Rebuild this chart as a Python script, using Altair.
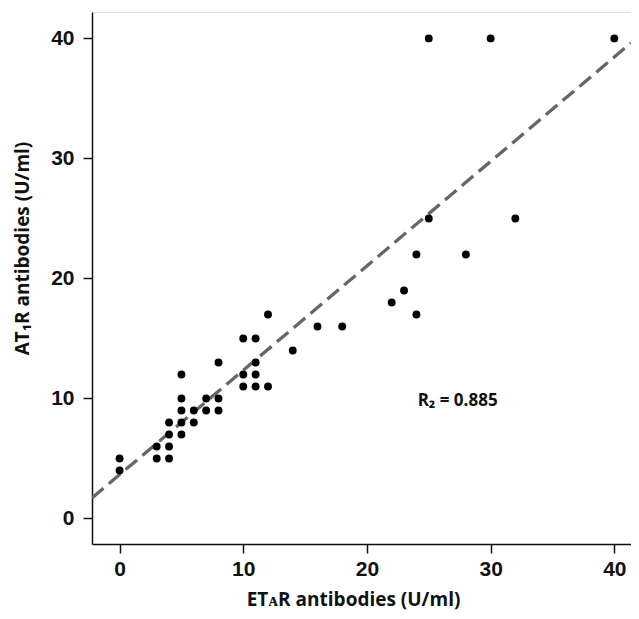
import altair as alt
import pandas as pd

# Data
eta_r = [0, 0, 3, 3, 4, 4, 4, 4, 5, 5, 5, 5, 5, 6, 6, 7, 7, 8, 8, 8,
         10, 10, 10, 11, 11, 11, 11, 12, 12, 14, 16, 18, 22, 23, 24, 24,
         25, 28, 32, 25, 30, 40]
at1_r = [5, 4, 6, 5, 5, 6, 7, 8, 7, 8, 9, 10, 12, 8, 9, 9, 10, 9, 10, 13,
         11, 12, 15, 11, 12, 13, 15, 11, 17, 14, 16, 16, 18, 19, 17, 22,
         25, 22, 25, 40, 40, 40]

fit_slope = 0.87
fit_intercept = 3.65
r2_label = "R₂ = 0.885"
r2_pos = [24.1, 9.83]

x_domain = [-2.23, 41.35]
y_domain = [-2.125, 42.2]
tick_values = [0, 10, 20, 30, 40]

pts = pd.DataFrame({"x": eta_r, "y": at1_r})
line_df = pd.DataFrame({"x": x_domain})
line_df["y"] = fit_intercept + fit_slope * line_df["x"]
ann = pd.DataFrame({"x": [r2_pos[0]], "y": [r2_pos[1]], "t": [r2_label]})

x_scale = alt.Scale(domain=x_domain, nice=False, zero=False)
y_scale = alt.Scale(domain=y_domain, nice=False, zero=False)

label_font = "Liberation Sans"
title_font = "Open Sans"
ink = "#111111"

x_axis = alt.Axis(
    values=tick_values, title="ETᴀR antibodies (U/ml)", grid=False,
    labelFont=label_font, labelFontSize=21, labelFontWeight="bold", labelColor=ink,
    labelPadding=5, tickSize=9, tickColor=ink, tickWidth=1.5,
    domainColor=ink, domainWidth=1.5,
    titleFont=title_font, titleFontSize=19, titleFontWeight="bold", titleColor=ink,
    titleX=261, titleY=61, titleBaseline="alphabetic", titleAnchor="middle", titleAlign="center",
)
y_axis = alt.Axis(
    values=tick_values, title="AT₁R antibodies (U/ml)", grid=False,
    labelFont=label_font, labelFontSize=21, labelFontWeight="bold", labelColor=ink,
    labelPadding=9, tickSize=9, tickColor=ink, tickWidth=1.5,
    domainColor=ink, domainWidth=1.5,
    titleFont=title_font, titleFontSize=19, titleFontWeight="bold", titleColor=ink,
    titleX=-64, titleY=236, titleAngle=-90, titleAlign="center", titleBaseline="alphabetic",
)

line = alt.Chart(line_df).mark_line(
    color="#666666", strokeWidth=3.3, strokeDash=[15, 7], clip=True
).encode(
    x=alt.X("x:Q", scale=x_scale, axis=x_axis),
    y=alt.Y("y:Q", scale=y_scale, axis=y_axis),
)

points = alt.Chart(pts).mark_circle(size=62, color="black", opacity=1).encode(
    x=alt.X("x:Q", scale=x_scale),
    y=alt.Y("y:Q", scale=y_scale),
)

text = alt.Chart(ann).mark_text(
    align="left", baseline="middle", font=title_font, fontSize=17,
    fontWeight="bold", color=ink,
).encode(
    x=alt.X("x:Q", scale=x_scale),
    y=alt.Y("y:Q", scale=y_scale),
    text="t:N",
)

chart = alt.layer(line, points, text).properties(
    width=539, height=532,
    autosize=alt.AutoSizeParams(type="none"),
    padding={"left": 84, "top": 4, "right": 0, "bottom": 67},
).configure_view(stroke=None).configure(background="white")

chart.save("out.html", embed_options={"renderer": "svg", "actions": False})
